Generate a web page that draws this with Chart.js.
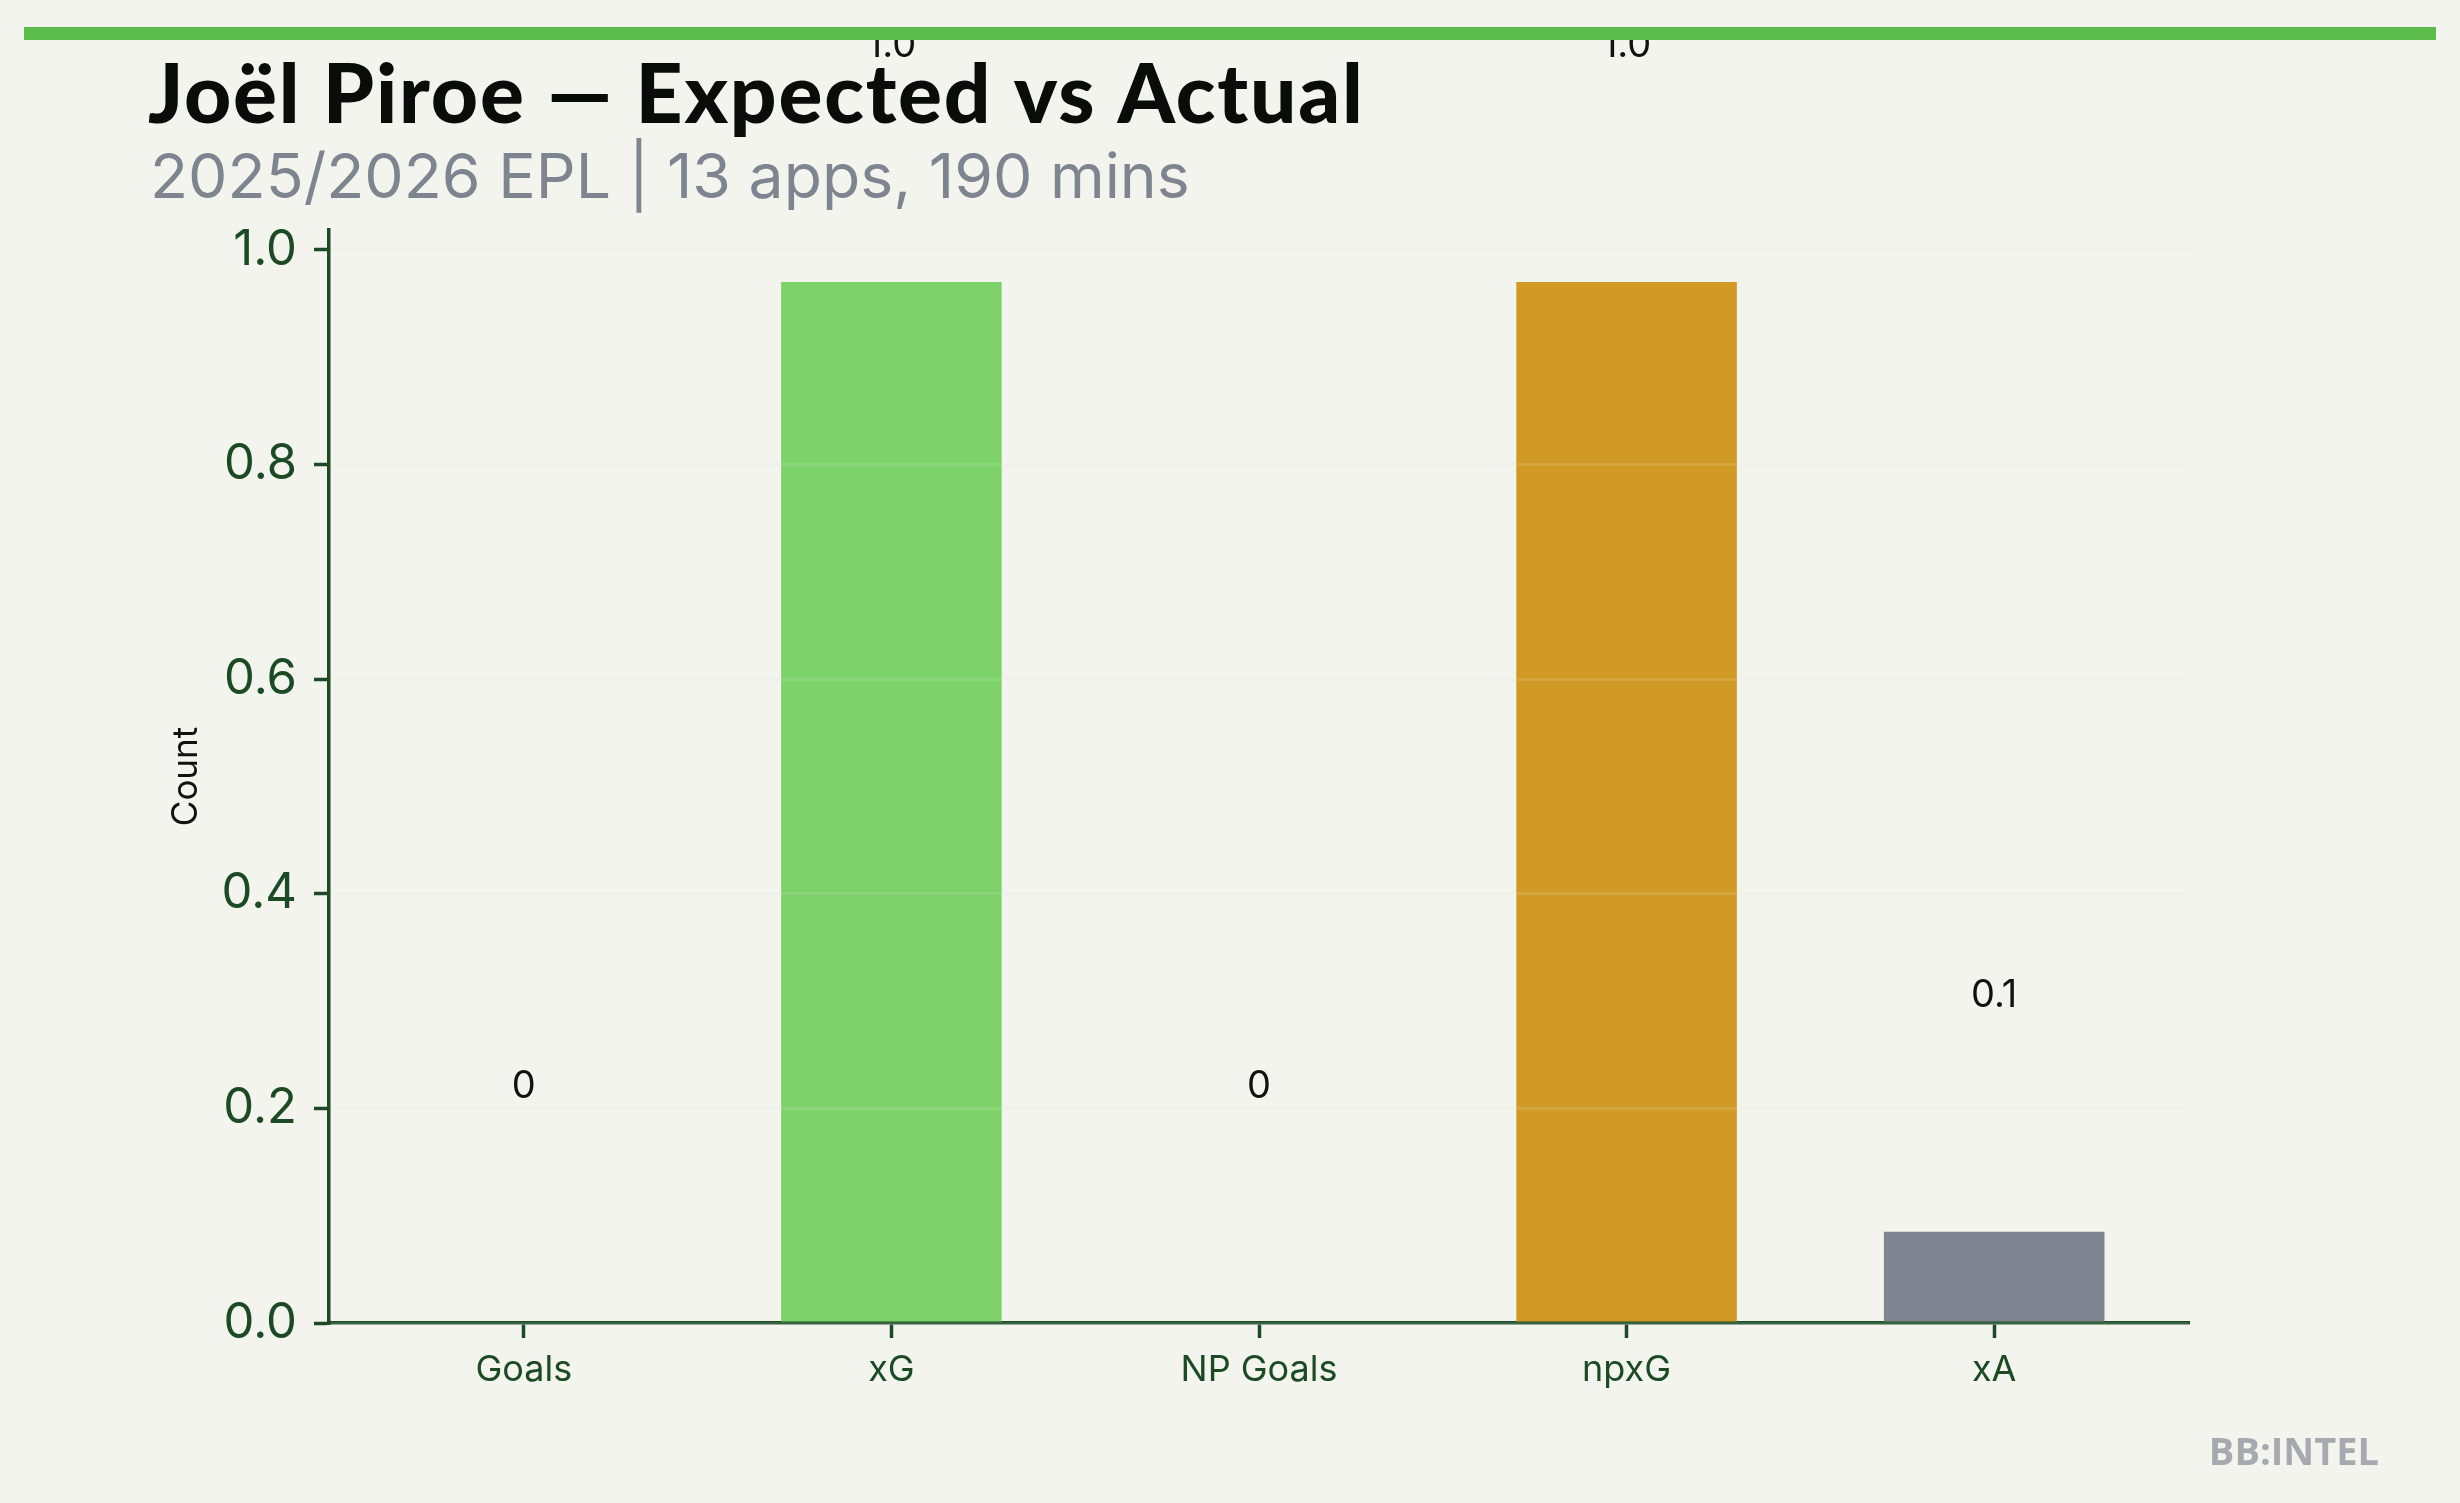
<!DOCTYPE html>
<html>
<head>
<meta charset="utf-8">
<script src="https://cdn.jsdelivr.net/npm/chart.js@4.4.0/dist/chart.umd.min.js"></script>
<style>
  html, body { margin: 0; padding: 0; background: #f3f4ee; }
  #wrap { position: relative; width: 2460px; height: 1503px; }
</style>
</head>
<body>
<div id="wrap"><canvas id="xgChart"></canvas></div>
<script>
// chart data
const categories = ['Goals', 'xG', 'NP Goals', 'npxG', 'xA'];
const values = [0, 0.97, 0, 0.97, 0.085];
const barColors = ['#5bbb4b', '#7dd36a', '#b07d18', '#d19a24', '#7f8590'];
const yTicks = [0, 0.2, 0.4, 0.6, 0.8, 1.0];
const yMax = 1.0185;

const titleText = 'Joël Piroe — Expected vs Actual';
const subtitleText = '2025/2026 EPL | 13 apps, 190 mins';
const brandText = 'BB:INTEL';

const axisColor = '#1b4a24';
const labelOffset = 0.22;

function fmt(v) {
    return v === 0 ? '0' : v.toFixed(1);
}

// text, header bar, value labels
const decorations = {
    id: 'decorations',
    afterDatasetsDraw(chart) {
        const ctx = chart.ctx;
        const xs = chart.scales.x, ys = chart.scales.y;
        ctx.save();
        ctx.font = '38px Inter';
        ctx.fillStyle = '#111111';
        ctx.textAlign = 'center';
        ctx.textBaseline = 'middle';
        values.forEach((v, i) => {
            ctx.fillText(fmt(v), xs.getPixelForValue(i), ys.getPixelForValue(v + labelOffset));
        });
        ctx.restore();
    },
    afterDraw(chart) {
        const ctx = chart.ctx;
        ctx.save();
        // green strip on top
        ctx.fillStyle = '#5bbb4b';
        ctx.fillRect(24, 27, 2412, 13);

        ctx.textAlign = 'left';
        ctx.textBaseline = 'alphabetic';
        ctx.fillStyle = '#0a0c0a';
        ctx.font = '900 82px Lato';
        ctx.letterSpacing = '1.8px';
        ctx.fillText(titleText, 148, 123);
        ctx.letterSpacing = '0px';

        ctx.fillStyle = '#7f8590';
        ctx.font = '62.5px Inter';
        ctx.fillText(subtitleText, 150, 198);

        ctx.fillStyle = '#a6aab0';
        ctx.font = 'bold 38px "Open Sans"';
        ctx.textAlign = 'right';
        ctx.fillText(brandText, 2379, 1465);
        ctx.restore();
    }
};

const ctx = document.getElementById('xgChart').getContext('2d');
window.xgChart = new Chart(ctx, {
    type: 'bar',
    data: {
        datasets: [{
            data: values.map((v, i) => ({ x: i, y: v })),
            backgroundColor: barColors,
            borderWidth: 0,
            barPercentage: 0.6,
            categoryPercentage: 1.0
        }]
    },
    options: {
        responsive: true,
        maintainAspectRatio: false,
        devicePixelRatio: 1,
        animation: false,
        layout: { padding: { top: 230, right: 271, bottom: 80, left: 0 } },
        plugins: {
            legend: { display: false },
            tooltip: { enabled: false }
        },
        scales: {
            x: {
                type: 'linear',
                min: -0.53,
                max: 4.53,
                offset: false,
                afterBuildTicks: (scale) => { scale.ticks = categories.map((c, i) => ({ value: i })); },
                afterFit: (scale) => { scale.height = 100; },
                grid: {
                    offset: false,
                    drawOnChartArea: false,
                    drawTicks: true,
                    tickLength: 15,
                    tickWidth: 3.5,
                    tickColor: axisColor
                },
                border: { display: true, color: axisColor, width: 3.5 },
                ticks: {
                    autoSkip: false,
                    maxRotation: 0,
                    padding: 11,
                    color: axisColor,
                    font: { family: 'Inter', size: 36 },
                    callback: (v) => categories[v]
                }
            },
            y: {
                min: 0,
                max: yMax,
                afterBuildTicks: (scale) => { scale.ticks = yTicks.map(v => ({ value: v })); },
                afterFit: (scale) => { scale.width = 329; },
                grid: {
                    z: 1,
                    color: 'rgba(228,230,224,0.15)',
                    lineWidth: 3,
                    drawTicks: true,
                    tickLength: 15,
                    tickWidth: 3.5,
                    tickColor: axisColor
                },
                border: { display: true, color: axisColor, width: 3.5, z: 1 },
                ticks: {
                    padding: 17,
                    color: axisColor,
                    font: { family: 'Inter', size: 49 },
                    callback: (v) => v.toFixed(1)
                },
                title: {
                    display: true,
                    text: 'Count',
                    color: '#111111',
                    font: { family: 'Inter', size: 35 },
                    padding: { top: 165, bottom: 0 }
                }
            }
        }
    },
    plugins: [decorations]
});
</script>
</body>
</html>
